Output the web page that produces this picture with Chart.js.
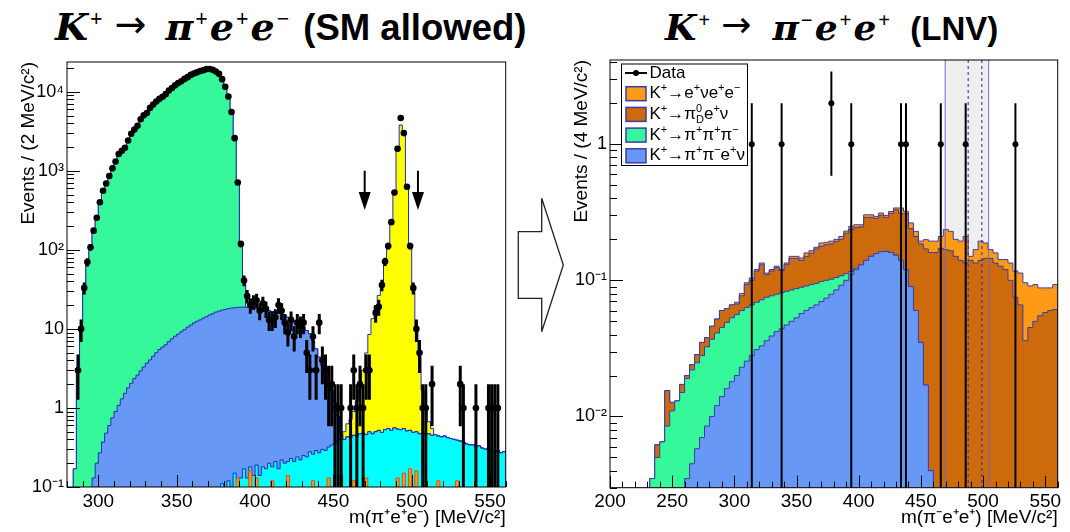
<!DOCTYPE html>
<html>
<head>
<meta charset="utf-8">
<title>K+ to pi e e</title>
<script src="https://cdn.jsdelivr.net/npm/chart.js@4.4.1/dist/chart.umd.min.js"></script>
<style>
  html, body { margin: 0; padding: 0; background: #fff; }
  #page { position: relative; width: 1070px; height: 532px; overflow: hidden; }
  #page canvas { position: absolute; top: 0; }
  .ttl { position: absolute; top: 3px; white-space: nowrap; line-height: 43px; color: #000; }
  .mth { font-family: "DejaVu Serif", "Liberation Serif", serif; font-weight: bold; font-style: italic; letter-spacing: 1px; }
  .mth sup { font-family: "Liberation Serif", serif; font-style: normal; font-size: 0.58em; vertical-align: 0.64em; line-height: 0; margin: 0 1px; }
  .arw { font-family: "DejaVu Sans", sans-serif; font-style: normal; font-weight: normal; font-size: 1.0em; vertical-align: 0.08em; }
  .txt { font-family: "Liberation Sans", Arial, sans-serif; font-weight: bold; }
</style>
</head>
<body>
<div id="page">
  <svg width="1070" height="532" style="position:absolute;left:0;top:0">
    <polygon points="518.3,231.7 541.7,231.7 541.7,198.3 563.3,265 541.7,331.7 541.7,298.3 518.3,298.3"
             fill="#fff" stroke="#222" stroke-width="1.3"/>
  </svg>
  <div class="ttl" style="left:55px"><span class="mth" style="font-size:38px">K<sup>+</sup><span class="arw" style="margin:0 18px 0 10px">→</span>π<sup>+</sup>e<sup>+</sup>e<sup>−</sup></span><span class="txt" style="font-size:36.5px;margin-left:12px">(SM allowed)</span></div>
  <div class="ttl" style="left:665px"><span class="mth" style="font-size:36px">K<sup>+</sup><span class="arw" style="margin:0 20px 0 9px">→</span>π<sup>−</sup>e<sup>+</sup>e<sup>+</sup></span><span class="txt" style="font-size:33px;margin-left:18px">(LNV)</span></div>
  <canvas id="left" width="520" height="532" style="left:0"></canvas>
  <canvas id="right" width="510" height="532" style="left:560px"></canvas>
</div>
<script>
// ---------- left panel: K+ -> pi+ e+ e- (SM allowed), 2 MeV bins ----------
const binL = 2;
const xTicksL = [300, 350, 400, 450, 500, 550];
const yTicksL = [0.1, 1, 10, 100, 1000, 10000];
const yLabelsL = ['10⁻¹', '1', '10', '10²', '10³', '10⁴'];

// K+ -> pi+ pi+ pi- (green), first bin starts at 284 MeV
const pi3StartL = 284;
const pi3L = [0.17, 3.2, 10, 31, 70, 110, 175, 255, 395, 555,
  690, 860, 1070, 1300, 1600, 1820, 1980, 2400, 2900, 3300,
  3750, 4450, 5000, 5450, 6200, 6900, 7500, 8100, 8700, 9350,
  10300, 11200, 12000, 12900, 13700, 14500, 15400, 16300, 17000, 17700,
  18200, 18800, 19300, 19400, 19000, 18000, 16900, 14500, 11500, 8700,
  5500, 2600, 700, 100, 22];

// blue background, first bin starts at 296 MeV
const blueStartL = 296;
const blueL = [0.13, 0.2, 0.27, 0.37, 0.48, 0.6, 0.75, 0.9, 1.08, 1.3,
  1.53, 1.8, 2.05, 2.35, 2.6, 2.95, 3.3, 3.7, 4.05, 4.5,
  5.0, 5.5, 5.9, 6.3, 6.9, 7.5, 8.1, 8.6, 9.2, 9.8,
  10.5, 11.2, 11.9, 12.5, 13.0, 13.7, 14.3, 15.0, 15.6, 16.3,
  16.8, 17.2, 17.6, 17.9, 18.2, 18.4, 18.6, 18.7, 18.7, 18.6,
  18.4, 18.2, 17.9, 17.7, 17.4, 17.1, 16.8, 16.4, 16.0, 15.6,
  15.1, 14.6, 13.8, 13.0, 12.3, 11.8, 11.3, 10.3, 9.3, 8.4,
  6.8, 5.3, 4.1, 3.1, 2.4, 1.8, 1.3, 0.8, 0.4, 0.05];

// cyan background, first bin starts at 378 MeV
const cyanStartL = 378;
const cyanL = [0.11, 0, 0.12, 0.1, 0.15, 0.12, 0.13, 0.17, 0.13, 0.18,
  0.14, 0.19, 0.14, 0.18, 0.17, 0.2, 0.18, 0.21, 0.17, 0.22,
  0.2, 0.21, 0.23, 0.21, 0.24, 0.22, 0.25, 0.24, 0.28, 0.26,
  0.29, 0.27, 0.3, 0.29, 0.32, 0.34, 0.36, 0.38, 0.41, 0.4,
  0.43, 0.42, 0.45, 0.43, 0.47, 0.48, 0.46, 0.5, 0.47, 0.5,
  0.52, 0.49, 0.53, 0.55, 0.52, 0.56, 0.54, 0.53, 0.55, 0.51,
  0.52, 0.49, 0.5, 0.47, 0.48, 0.46, 0.47, 0.45, 0.46, 0.44,
  0.43, 0.44, 0.42, 0.41, 0.4, 0.39, 0.38, 0.37, 0.35, 0.34,
  0.34, 0.32, 0.33, 0.31, 0.3, 0.31, 0.29, 0.28, 0.29, 0.27,
  0.28];

// K+ -> pi+ e+ e- signal (yellow), first bin starts at 456 MeV
const signalStartL = 456;
const signalL = [0.1, 0.2, 0.3, 0.45, 0.8, 1.3, 2.5, 4.5, 8, 13,
  19, 26, 38, 65, 115, 230, 540, 1800, 3800, 3000,
  640, 115, 34, 10, 4, 1.2, 0.5, 0.2, 0.1];

// small orange component (bin centres / contents)
const orangeXL = [389, 397, 401, 411, 421, 437, 447, 455, 463, 471, 491, 495, 499, 503, 517, 529];
const orangeYL = [0.13, 0.16, 0.13, 0.12, 0.14, 0.12, 0.13, 0.14, 0.12, 0.13, 0.13, 0.15, 0.17, 0.16, 0.12, 0.12];

// data (bin centres / counts)
const dataXL = [287, 289, 291, 293, 295, 297, 299, 301, 303, 305,
  307, 309, 311, 313, 315, 317, 319, 321, 323, 325,
  327, 329, 331, 333, 335, 337, 339, 341, 343, 345,
  347, 349, 351, 353, 355, 357, 359, 361, 363, 365,
  367, 369, 371, 373, 375, 377, 379, 381, 383, 385,
  387, 389, 391, 393, 395,
  397, 399, 401, 403, 405, 407, 409, 411, 413, 415,
  417, 419, 421, 423, 425, 427, 429, 431, 433, 435,
  437, 439, 441, 443, 445, 447, 449, 451, 453, 455,
  461, 463, 465, 467, 469, 471, 473, 477, 479,
  481, 483, 485, 487, 489, 491, 493, 495, 497, 499, 501, 503, 505, 507, 509,
  513, 531, 533, 541, 549, 551, 553, 555];
const dataYL = [3, 10, 33, 70, 108, 175, 255, 400, 560, 690,
  860, 1075, 1310, 1630, 1790, 1960, 2420, 2950, 3320, 3720,
  4500, 5050, 5380, 6250, 6880, 7520, 8150, 8640, 9330, 10350,
  11150, 12050, 12900, 13600, 14550, 15300, 16350, 17050, 17600, 18250,
  18700, 19350, 19450, 18950, 18050, 16850, 14450, 11550, 8700, 5550,
  2590, 711, 119, 41, 26,
  20, 22, 23, 17, 21, 18, 13, 13, 14, 20,
  17, 12, 9, 13, 8, 12, 11, 12, 5, 3,
  8, 3, 12, 4, 3, 2, 2, 1, 1, 1,
  1, 3, 1, 2, 1, 3, 3, 16, 19,
  36, 71, 112, 224, 530, 1900, 4650, 3000, 630, 112, 33, 10, 5, 1, 1,
  2, 2, 1, 1, 1, 1, 1, 1];

const cutArrowsL = [470, 504];

// ---------- right panel: K+ -> pi- e+ e+ (LNV), 4 MeV bins ----------
const binR = 4;
const xTicksR = [200, 250, 300, 350, 400, 450, 500, 550];
const yTicksR = [0.01, 0.1, 1];
const yLabelsR = ['10⁻²', '10⁻¹', '1'];

// K+ -> pi+ pi- e+ nu (blue)
const ke4StartR = 260;
const ke4R = [0.0035, 0.0045, 0.0058, 0.007, 0.0085, 0.010, 0.012, 0.014, 0.016, 0.018,
  0.020, 0.023, 0.0255, 0.028, 0.031, 0.033, 0.036, 0.039, 0.042, 0.044,
  0.047, 0.05, 0.053, 0.057, 0.06, 0.063, 0.066, 0.07, 0.074, 0.079,
  0.085, 0.092, 0.1, 0.11, 0.12, 0.13, 0.14, 0.15, 0.157, 0.162,
  0.163, 0.16, 0.153, 0.14, 0.12, 0.09, 0.06, 0.035, 0.017, 0.004];

// K+ -> pi+ pi+ pi- (green)
const pi3StartR = 232;
const pi3R = [0.0035, 0.005, 0.0065, 0.0085, 0.011, 0.013, 0.015, 0.0155, 0.0175, 0.019,
  0.021, 0.024, 0.027, 0.029, 0.031, 0.033, 0.035, 0.036, 0.037, 0.0375,
  0.038, 0.038, 0.039, 0.039, 0.038, 0.037, 0.037, 0.036, 0.035, 0.034,
  0.032, 0.031, 0.03, 0.029, 0.028, 0.026, 0.023, 0.02, 0.016, 0.012,
  0.006, 0.003];

// K+ -> pi0_D e+ nu (dark orange)
const pi0dStartR = 236;
const pi0dR = [0.0012, 0, 0.007, 0.0017, 0, 0.0022, 0.001, 0.002, 0.0037, 0.007,
  0.0055, 0.009, 0.011, 0.015, 0.013, 0.013, 0.011, 0.017, 0.03, 0.034,
  0.048, 0.058, 0.035, 0.04, 0.045, 0.037, 0.048, 0.06, 0.058, 0.051,
  0.059, 0.065, 0.075, 0.08, 0.083, 0.083, 0.088, 0.092, 0.11, 0.12,
  0.122, 0.117, 0.15, 0.14, 0.128, 0.138, 0.127, 0.15, 0.177, 0.17,
  0.19, 0.15, 0.15, 0.15, 0.153, 0.156, 0.16, 0.172, 0.168, 0.165,
  0.15, 0.14, 0.134, 0.14, 0.134, 0.14, 0.145, 0.145, 0.134, 0.127,
  0.12, 0.1, 0.075, 0.066, 0.036, 0.045, 0.05, 0.055, 0.058, 0.06,
  0.061];

// K+ -> e+ nu e+ e- (light orange)
const eveeStartR = 300;
const eveeR = [0.002, 0.003, 0.003, 0.004, 0.003, 0.004, 0.003, 0.003, 0.003, 0.002,
  0.003, 0.005, 0.005, 0.006, 0.009, 0.007, 0.005, 0.01, 0.007, 0.009,
  0.007, 0.01, 0.008, 0.013, 0.011, 0.009, 0.013, 0.013, 0.01, 0.012,
  0.01, 0.01, 0.01, 0.03, 0.011, 0.024, 0.019, 0.009, 0.029, 0.034,
  0.034, 0.038, 0.068, 0.064, 0.05, 0.054, 0.076, 0.01, 0.034, 0.054,
  0.043, 0.023, 0.025, 0.015, 0.022, 0.034, 0.042, 0.047, 0.06, 0.046,
  0.043, 0.033, 0.03, 0.028, 0.032];

const dataXR = [314, 338, 378, 394, 434, 438, 466, 486, 526];
const dataYR = [1, 1, 2, 1, 1, 1, 1, 1, 1];

const signalBandR = [469.5, 504.5];
const signalDashR = [488, 499];

const legendTextR = ['Data', 'K^{+}→e^{+}νe^{+}e^{−}', 'K^{+}→π^{0}_{D}e^{+}ν', 'K^{+}→π^{+}π^{+}π^{−}', 'K^{+}→π^{+}π^{−}e^{+}ν'];

// ---------- colours ----------
const C = {
  green: '#36f79a', blue: '#6898f5', cyan: '#00ffff', yellow: '#ffff00', orange: '#ff9900',
  light: '#ff9a17', dark: '#cd6a0c', lineL: '#1f2fb0', lineR: '#3c3ca8'
};
const FONT = '"Liberation Sans", Arial, Helvetica, sans-serif';
const FLOOR = 1e-6;

// ---------- helpers ----------
function onGrid(lo, hi, width, start, values) {
  const out = new Array(Math.round((hi - lo) / width)).fill(0);
  const off = Math.round((start - lo) / width);
  values.forEach((v, i) => { out[off + i] = v; });
  return out;
}
function centresOnGrid(lo, hi, width, centres, values) {
  const out = new Array(Math.round((hi - lo) / width)).fill(0);
  centres.forEach((c, i) => { out[Math.floor((c - lo) / width)] = values[i]; });
  return out;
}
function addArr(a, b) { return a.map((v, i) => v + b[i]); }

// stepped outline: vertical edge up, one point per bin low edge, vertical edge down
function histo(lo, width, vals) {
  const pts = [{x: lo, y: FLOOR}];
  vals.forEach((v, i) => pts.push({x: lo + i * width, y: v > 0 ? v : FLOOR}));
  const end = lo + vals.length * width;
  pts.push({x: end, y: vals[vals.length - 1] > 0 ? vals[vals.length - 1] : FLOOR});
  pts.push({x: end, y: FLOOR});
  return pts;
}
function histDS(lo, width, vals, fill, line) {
  return {data: histo(lo, width, vals), stepped: true, fill: 'start', backgroundColor: fill,
    borderColor: line, borderWidth: 1, pointRadius: 0, tension: 0};
}
function dataDS(xs, ys, r) {
  return {data: xs.map((x, i) => ({x, y: ys[i]})), showLine: false, fill: false,
    pointRadius: r, pointBackgroundColor: '#000', pointBorderColor: '#000', pointBorderWidth: 0};
}

// tiny TeX-ish text: ^{..} superscript, _{..} subscript (stacked when both follow)
function drawTex(ctx, str, x, y, size) {
  const re = /(\^\{[^}]*\})(_\{[^}]*\})?|(_\{[^}]*\})|([^^_]+)/g;
  const small = Math.round(size * 0.65);
  let cx = x, m;
  ctx.textBaseline = 'middle';
  ctx.textAlign = 'left';
  while ((m = re.exec(str))) {
    if (m[4]) {
      ctx.font = size + 'px ' + FONT;
      ctx.fillText(m[4], cx, y);
      cx += ctx.measureText(m[4]).width;
    } else {
      ctx.font = small + 'px ' + FONT;
      let w = 0;
      if (m[1]) {
        const t = m[1].slice(2, -1);
        ctx.fillText(t, cx, y - size * 0.33);
        w = ctx.measureText(t).width;
      }
      const sub = m[2] || m[3];
      if (sub) {
        const t = sub.slice(2, -1);
        ctx.fillText(t, cx, y + size * 0.3);
        w = Math.max(w, ctx.measureText(t).width);
      }
      cx += w;
    }
  }
}

// ROOT-like decorations: frame, inner ticks, error bars, arrows, band, legend
const rootDeco = {
  id: 'rootDeco',
  beforeDatasetsDraw(chart, args, o) {
    if (!o.band) return;
    const {ctx, chartArea: a, scales: {x}} = chart;
    const x0 = x.getPixelForValue(o.band[0]), x1 = x.getPixelForValue(o.band[1]);
    ctx.save();
    ctx.fillStyle = '#eeeeee';
    ctx.fillRect(x0, a.top, x1 - x0, a.bottom - a.top);
    ctx.restore();
  },
  afterDatasetsDraw(chart, args, o) {
    const {ctx, chartArea: a, scales: {x, y}} = chart;
    ctx.save();
    ctx.beginPath();
    ctx.rect(a.left, a.top, a.right - a.left, a.bottom - a.top);
    ctx.clip();
    if (o.band) {
      ctx.strokeStyle = '#6b6bd0';
      ctx.lineWidth = 1;
      o.band.forEach(v => {
        const px = x.getPixelForValue(v);
        ctx.beginPath(); ctx.moveTo(px, a.top); ctx.lineTo(px, a.bottom); ctx.stroke();
      });
      ctx.strokeStyle = '#2a2aa8';
      ctx.setLineDash([3, 3]);
      o.dashed.forEach(v => {
        const px = x.getPixelForValue(v);
        ctx.beginPath(); ctx.moveTo(px, a.top); ctx.lineTo(px, a.bottom); ctx.stroke();
      });
      ctx.setLineDash([]);
    }
    ctx.strokeStyle = '#000';
    ctx.lineWidth = o.errWidth;
    o.dataX.forEach((m, i) => {
      const n = o.dataY[i], s = Math.sqrt(n);
      const px = x.getPixelForValue(m);
      const top = y.getPixelForValue(n + s);
      const bot = n - s > 0 ? y.getPixelForValue(n - s) : a.bottom;
      ctx.beginPath(); ctx.moveTo(px, top); ctx.lineTo(px, bot); ctx.stroke();
    });
    if (o.arrows) {
      ctx.fillStyle = '#000';
      ctx.lineWidth = 2;
      o.arrows.forEach(m => {
        const px = x.getPixelForValue(m);
        const top = y.getPixelForValue(o.arrowTop), tip = y.getPixelForValue(o.arrowTip);
        ctx.beginPath(); ctx.moveTo(px, top); ctx.lineTo(px, tip - 16); ctx.stroke();
        ctx.beginPath(); ctx.moveTo(px - 6, tip - 18); ctx.lineTo(px + 6, tip - 18); ctx.lineTo(px, tip); ctx.closePath(); ctx.fill();
      });
    }
    ctx.restore();
  },
  afterDraw(chart, args, o) {
    const {ctx, chartArea: a, scales: {x, y}} = chart;
    ctx.save();
    ctx.strokeStyle = '#000';
    ctx.lineWidth = 1;
    ctx.strokeRect(a.left, a.top, a.right - a.left, a.bottom - a.top);
    ctx.beginPath();
    for (let m = x.min; m <= x.max; m += 10) {
      const px = Math.round(x.getPixelForValue(m)) + 0.5;
      const len = m % 50 === 0 ? 12 : 6;
      ctx.moveTo(px, a.bottom); ctx.lineTo(px, a.bottom - len);
    }
    for (let d = Math.floor(Math.log10(y.min)); d <= Math.ceil(Math.log10(y.max)); d++) {
      for (let k = 1; k <= 9; k++) {
        const v = k * Math.pow(10, d);
        if (v < y.min * 0.999 || v > y.max) continue;
        const py = Math.round(y.getPixelForValue(v)) + 0.5;
        ctx.moveTo(a.left, py); ctx.lineTo(a.left + (k === 1 ? 13 : 7), py);
      }
    }
    ctx.stroke();
    if (o.legend) {
      const bx = a.left + 11, by = a.top + 3.5, bw = 126, bh = 101.5;
      ctx.fillStyle = '#fff';
      ctx.fillRect(bx, by, bw, bh);
      ctx.strokeRect(bx + 0.5, by + 0.5, bw, bh);
      o.legend.forEach((txt, i) => {
        const cy = by + 9.5 + i * 20.7;
        const col = o.legendColors[i];
        if (col) {
          ctx.fillStyle = col;
          ctx.fillRect(bx + 5, cy - 7, 20, 14);
          ctx.strokeStyle = C.lineR;
          ctx.lineWidth = 1.5;
          ctx.strokeRect(bx + 5, cy - 7, 20, 14);
        } else {
          ctx.strokeStyle = '#000';
          ctx.lineWidth = 2;
          ctx.beginPath(); ctx.moveTo(bx + 4, cy); ctx.lineTo(bx + 26, cy); ctx.stroke();
          ctx.fillStyle = '#000';
          ctx.beginPath(); ctx.arc(bx + 15, cy, 3, 0, Math.PI * 2); ctx.fill();
        }
        ctx.fillStyle = '#000';
        drawTex(ctx, txt, bx + 28.5, cy, 17);
      });
    }
    ctx.restore();
  }
};

function scalesFor(o) {
  return {
    x: {
      type: 'linear', min: o.xMin, max: o.xMax, bounds: 'data',
      grid: {display: false, drawTicks: false}, border: {display: false},
      afterFit: s => { s.height = o.xHeight; },
      afterBuildTicks: s => { s.ticks = o.xTicks.map(v => ({value: v})); },
      ticks: {color: '#000', font: {family: FONT, size: 19}, padding: 3, maxRotation: 0, autoSkip: false,
        callback: v => String(v)},
      title: {display: true, text: o.xTitle, align: 'end', color: '#000',
        font: {family: FONT, size: 19}, padding: {top: 0, bottom: 3}}
    },
    y: {
      type: 'logarithmic', min: o.yMin, max: o.yMax, bounds: 'data',
      grid: {display: false, drawTicks: false}, border: {display: false},
      afterFit: s => { s.width = o.yWidth; },
      afterBuildTicks: s => { s.ticks = o.yTicks.map(v => ({value: v})); },
      ticks: {color: '#000', font: {family: FONT, size: 18}, padding: 3, autoSkip: false,
        callback: v => { const i = o.yTicks.indexOf(v); return i < 0 ? '' : o.yLabels[i]; }},
      title: {display: true, text: o.yTitle, align: 'end', color: '#000',
        font: {family: FONT, size: 19}, padding: {top: o.yTitlePad, bottom: 0}}
    }
  };
}

Chart.defaults.font.family = FONT;

// ---------- left chart ----------
const loL = 280, hiL = 560;
const cyanG = onGrid(loL, hiL, binL, cyanStartL, cyanL);
const blueG = addArr(cyanG, onGrid(loL, hiL, binL, blueStartL, blueL));
const pi3G = addArr(blueG, onGrid(loL, hiL, binL, pi3StartL, pi3L));
const totalG = addArr(pi3G, onGrid(loL, hiL, binL, signalStartL, signalL));
const orangeG = centresOnGrid(loL, hiL, binL, orangeXL, orangeYL);

new Chart(document.getElementById('left'), {
  type: 'line',
  data: {
    datasets: [
      dataDS(dataXL, dataYL, 3.3),
      histDS(loL, binL, orangeG, C.orange, '#c05a30'),
      histDS(loL, binL, cyanG, C.cyan, C.lineL),
      histDS(loL, binL, blueG, C.blue, C.lineL),
      histDS(loL, binL, pi3G, C.green, C.lineL),
      histDS(loL, binL, totalG, C.yellow, C.lineL)
    ]
  },
  options: {
    responsive: false, animation: false, events: [],
    layout: {padding: {top: 62, right: 14.3, bottom: 0, left: 0}},
    scales: scalesFor({xMin: loL, xMax: hiL, xTicks: xTicksL, xHeight: 45,
      xTitle: 'm(π⁺e⁺e⁻) [MeV/c²]',
      yMin: 0.1, yMax: 23800, yTicks: yTicksL, yLabels: yLabelsL, yWidth: 67,
      yTitle: 'Events / (2 MeV/c²)', yTitlePad: 17}),
    plugins: {
      legend: {display: false}, tooltip: {enabled: false},
      rootDeco: {dataX: dataXL, dataY: dataYL, errWidth: 3, arrows: cutArrowsL, arrowTop: 1000, arrowTip: 320}
    }
  },
  plugins: [rootDeco]
});

// ---------- right chart ----------
const loR = 200, hiR = 560;
const ke4G = onGrid(loR, hiR, binR, ke4StartR, ke4R);
const pi3GR = addArr(ke4G, onGrid(loR, hiR, binR, pi3StartR, pi3R));
const pi0dG = addArr(pi3GR, onGrid(loR, hiR, binR, pi0dStartR, pi0dR));
const eveeG = addArr(pi0dG, onGrid(loR, hiR, binR, eveeStartR, eveeR));

new Chart(document.getElementById('right'), {
  type: 'line',
  data: {
    datasets: [
      dataDS(dataXR, dataYR, 3),
      histDS(loR, binR, ke4G, C.blue, C.lineR),
      histDS(loR, binR, pi3GR, C.green, C.lineR),
      histDS(loR, binR, pi0dG, C.dark, C.lineR),
      histDS(loR, binR, eveeG, C.light, C.lineR)
    ]
  },
  options: {
    responsive: false, animation: false, events: [],
    layout: {padding: {top: 60, right: 12.3, bottom: 0, left: 0}},
    scales: scalesFor({xMin: loR, xMax: hiR, xTicks: xTicksR, xHeight: 44.3,
      xTitle: 'm(π⁻e⁺e⁺) [MeV/c²]',
      yMin: 0.003, yMax: 4.15, yTicks: yTicksR, yLabels: yLabelsR, yWidth: 50,
      yTitle: 'Events / (4 MeV/c²)', yTitlePad: 10.3}),
    plugins: {
      legend: {display: false}, tooltip: {enabled: false},
      rootDeco: {dataX: dataXR, dataY: dataYR, errWidth: 2, band: signalBandR, dashed: signalDashR,
        legend: legendTextR, legendColors: [null, C.light, C.dark, C.green, C.blue]}
    }
  },
  plugins: [rootDeco]
});
</script>
</body>
</html>
